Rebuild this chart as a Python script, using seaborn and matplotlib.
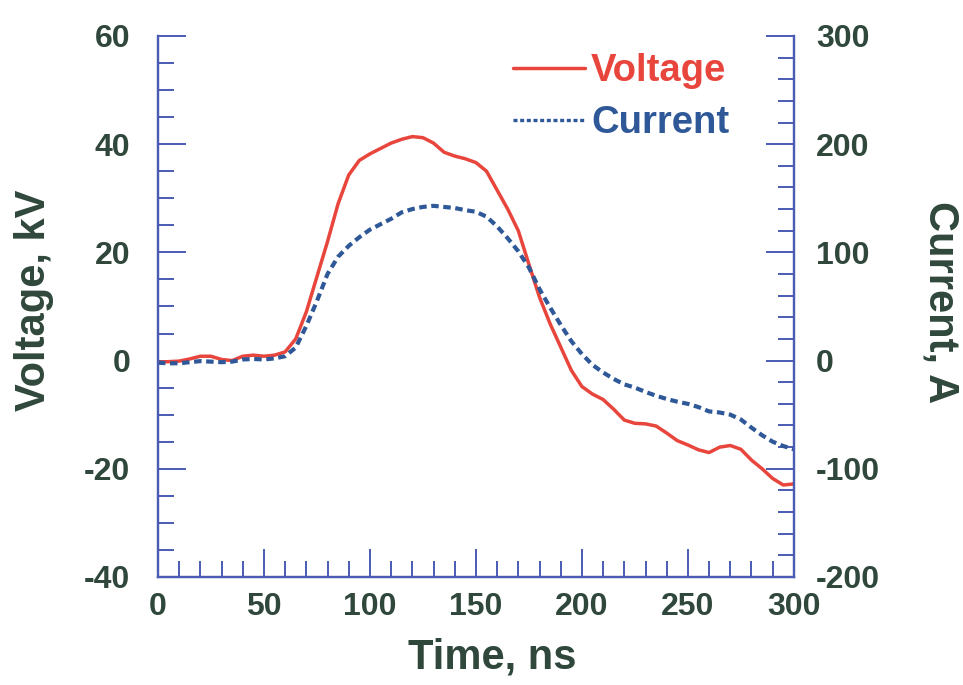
import seaborn as sns
import matplotlib.pyplot as plt
import pandas as pd

# values (every 5 ns)
time_ns = list(range(0, 305, 5))
voltage_kv = [
    -0.3, -0.2, -0.1, 0.3, 0.8, 0.8, 0.2, 0.0, 0.8, 1.0,
    0.8, 1.0, 1.6, 4.0, 9.0, 15.5, 22.0, 29.0, 34.3, 37.0,
    38.2, 39.2, 40.2, 40.9, 41.4, 41.2, 40.2, 38.5, 37.8, 37.3,
    36.6, 35.0, 31.5, 28.0, 24.0, 17.8, 11.7, 6.8, 2.5, -1.8,
    -4.8, -6.2, -7.2, -9.0, -11.0, -11.6, -11.7, -12.1, -13.4, -14.8,
    -15.6, -16.5, -17.0, -16.0, -15.7, -16.4, -18.4, -20.0, -21.8, -23.0,
    -22.8,
]
current_a = [
    -2, -2.5, -2.5, -1.5, -0.5, -1, -1.5, -1, 1, 1.5,
    1, 2, 4, 12, 32, 55, 80, 96, 106, 114,
    121, 126, 131, 137, 140, 142, 143, 142, 141, 139,
    137.5, 133, 124, 113, 101, 86, 66, 49, 33, 18,
    6, -4, -11, -17, -22, -25, -29, -32.5, -35.5, -38,
    -40, -43, -47, -48, -50, -54.5, -62, -69, -75, -79,
    -82,
]

df = pd.DataFrame({"time": time_ns, "voltage": voltage_kv, "current": current_a})

text_color = "#30473b"
spine_color = "#4a5cb3"
red = "#e8453c"
blue = "#2f5898"

sns.set_theme(style="ticks")
plt.rcParams["font.family"] = ["Liberation Sans", "DejaVu Sans"]
plt.rcParams["axes.unicode_minus"] = False

fig = plt.figure(figsize=(9.63, 6.85), dpi=100)
ax = fig.add_axes([0.164, 0.1577, 0.6604, 0.7898])
ax2 = ax.twinx()

sns.lineplot(data=df, x="time", y="voltage", ax=ax, color=red,
             linewidth=2.5, label="Voltage", legend=False)
sns.lineplot(data=df, x="time", y="current", ax=ax2, color=blue,
             linewidth=3.0, linestyle=(0, (1.8, 1.1)), label="Current",
             legend=False)

ax.set_xlim(0, 300)
ax.set_ylim(-40, 60)
ax2.set_ylim(-200, 300)

ax.set_xticks(range(0, 301, 50))
ax.set_xticks(range(0, 301, 10), minor=True)
ax.set_yticks(range(-40, 61, 20))
ax.set_yticks(range(-40, 61, 5), minor=True)
ax2.set_yticks(range(-200, 301, 100))
ax2.set_yticks(range(-200, 301, 20), minor=True)

for a in (ax, ax2):
    for side in ("left", "right", "bottom"):
        a.spines[side].set_color(spine_color)
        a.spines[side].set_linewidth(1.6)
    a.spines["top"].set_visible(False)
    a.tick_params(which="both", direction="in", color=spine_color,
                  width=1.4, labelcolor=text_color)
    a.tick_params(which="major", length=20, labelsize=23)
    a.tick_params(which="minor", length=11.5)
    for lbl in a.get_xticklabels() + a.get_yticklabels():
        lbl.set_fontweight("bold")

ax.tick_params(axis="y", which="major", pad=20)
ax.tick_params(axis="x", which="major", pad=11)
ax2.tick_params(axis="y", which="major", pad=16)

ax.set_xlabel("Time, ns", fontsize=30, fontweight="bold", color=text_color,
              va="center")
ax.set_ylabel("Voltage, kV", fontsize=30, fontweight="bold", color=text_color,
              va="center")
ax2.set_ylabel("Current, A", fontsize=30, fontweight="bold", color=text_color,
               rotation=-90, va="center")
ax.xaxis.set_label_coords(0.525, -0.148)
ax.yaxis.set_label_coords(-0.195, 0.512)
ax2.yaxis.set_label_coords(1.23, 0.508)

h1, l1 = ax.get_legend_handles_labels()
h2, l2 = ax2.get_legend_handles_labels()
leg = ax2.legend(h1 + h2, l1 + l2, loc="upper right",
                 bbox_to_anchor=(0.898, 0.968), frameon=False,
                 labelcolor="linecolor", handlelength=1.9,
                 handletextpad=0.15, labelspacing=0.42, borderpad=0,
                 borderaxespad=0,
                 prop={"size": 27.5, "weight": "bold"})
leg.get_lines()[1].set_linestyle((0, (1.2, 0.8)))
leg.get_lines()[1].set_linewidth(2.4)

fig.savefig("out.png", dpi=100)
